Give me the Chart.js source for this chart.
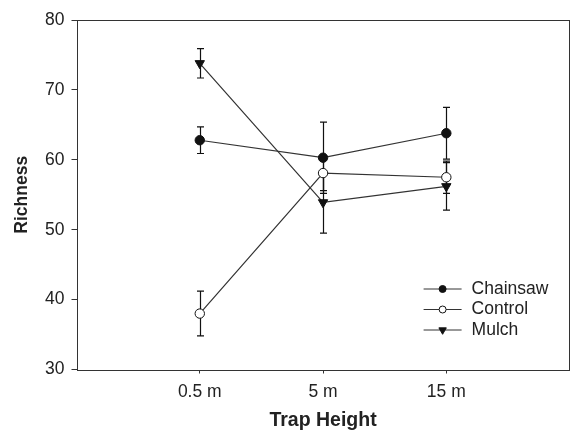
<!DOCTYPE html>
<html>
<head>
<meta charset="utf-8">
<script src="https://cdn.jsdelivr.net/npm/chart.js@4/dist/chart.umd.min.js"></script>
<style>
  html, body { margin: 0; padding: 0; background: #fff; overflow: hidden; }
  canvas { display: block; }
</style>
</head>
<body>
<canvas id="chart" width="576" height="430" style="width:576px;height:430px"></canvas>
<script>
// Alturas das armadilhas (posições 1, 2, 3 no eixo x)
const categories = ['0.5 m', '5 m', '15 m'];
const yTicks = [30, 40, 50, 60, 70, 80];

// Riqueza média e erro padrão por tratamento
const chainsaw = [62.8, 60.3, 63.8];
const chainsawErr = [1.9, 5.1, 3.7];
const control = [38.0, 58.1, 57.5];
const controlErr = [3.2, 2.5, 2.3];
const mulch = [73.8, 53.9, 56.2];
const mulchErr = [2.1, 4.4, 3.4];

const toPoints = (values) => values.map((v, i) => ({ x: i + 1, y: v }));

const INK = '#222';
const FONT = '"Liberation Sans", Arial, sans-serif';

// Desenha a moldura completa em volta da área do gráfico
const framePlugin = {
    id: 'frame',
    beforeDatasetsDraw(chart) {
        const { ctx, chartArea: a } = chart;
        ctx.save();
        ctx.strokeStyle = '#333';
        ctx.lineWidth = 1;
        const l = Math.round(a.left) + 0.5, t = Math.round(a.top) + 0.5;
        const r = Math.round(a.right) - 0.5, b = Math.round(a.bottom) + 0.5;
        ctx.strokeRect(l, t, r - l, b - t);
        ctx.restore();
    }
};

// Barras de erro verticais com tampas
const errorBarPlugin = {
    id: 'errorBars',
    beforeDatasetsDraw(chart) {
        const { ctx, scales: { x, y } } = chart;
        ctx.save();
        ctx.strokeStyle = '#111';
        ctx.lineWidth = 1.2;
        chart.data.datasets.forEach(ds => {
            ds.data.forEach((p, i) => {
                const e = ds.errors[i];
                const px = Math.round(x.getPixelForValue(p.x)) + 0.5;
                const yt = y.getPixelForValue(p.y + e);
                const yb = y.getPixelForValue(p.y - e);
                ctx.beginPath();
                ctx.moveTo(px, yt); ctx.lineTo(px, yb);
                ctx.moveTo(px - 3.5, yt); ctx.lineTo(px + 3.5, yt);
                ctx.moveTo(px - 3.5, yb); ctx.lineTo(px + 3.5, yb);
                ctx.stroke();
            });
        });
        ctx.restore();
    }
};

// Legenda no estilo linha + marcador, dentro da área do gráfico
const legendPlugin = {
    id: 'lineLegend',
    afterDraw(chart) {
        const { ctx, chartArea: a } = chart;
        const x0 = a.right - 146, x1 = a.right - 108;
        const xm = (x0 + x1) / 2;
        ctx.save();
        ctx.font = '17.5px ' + FONT;
        ctx.textBaseline = 'middle';
        chart.data.datasets.forEach((ds, i) => {
            const yy = a.bottom - 80.5 + i * 20.5;
            ctx.strokeStyle = '#333';
            ctx.lineWidth = 1;
            ctx.beginPath();
            ctx.moveTo(x0, yy); ctx.lineTo(x1, yy);
            ctx.stroke();
            ctx.fillStyle = ds.pointBackgroundColor;
            ctx.strokeStyle = ds.pointBorderColor;
            ctx.lineWidth = 1;
            Chart.helpers.drawPoint(ctx, {
                pointStyle: ds.pointStyle,
                radius: ds.pointStyle === 'triangle' ? 4.3 : 3.5,
                rotation: ds.pointRotation || 0,
                borderWidth: 1
            }, xm, yy);
            ctx.fillStyle = INK;
            ctx.fillText(ds.label, x1 + 10, yy);
        });
        ctx.restore();
    }
};

const baseDataset = {
    borderColor: '#333',
    borderWidth: 1.2,
    pointBorderColor: '#111',
    pointBorderWidth: 1,
    pointHoverRadius: 5,
    showLine: true,
    tension: 0
};

new Chart(document.getElementById('chart'), {
    type: 'scatter',
    data: {
        datasets: [
            { ...baseDataset, label: 'Chainsaw', data: toPoints(chainsaw), errors: chainsawErr,
              pointStyle: 'circle', pointRadius: 4.7, pointBackgroundColor: '#111' },
            { ...baseDataset, label: 'Control', data: toPoints(control), errors: controlErr,
              pointStyle: 'circle', pointRadius: 4.7, pointBackgroundColor: '#fff' },
            { ...baseDataset, label: 'Mulch', data: toPoints(mulch), errors: mulchErr,
              pointStyle: 'triangle', pointRotation: 180, pointRadius: 5.4, pointBackgroundColor: '#111' }
        ]
    },
    options: {
        responsive: false,
        maintainAspectRatio: false,
        devicePixelRatio: 1,
        animation: false,
        layout: { padding: { top: 20, right: 0, bottom: 0, left: 0 } },
        plugins: {
            legend: { display: false },
            tooltip: { enabled: false }
        },
        scales: {
            x: {
                type: 'linear',
                min: 0,
                max: 4,
                afterBuildTicks: (scale) => { scale.ticks = categories.map((c, i) => ({ value: i + 1 })); },
                afterFit: (scale) => { scale.height = 60.5; },
                border: { display: false },
                grid: { display: true, drawOnChartArea: false, drawTicks: true, tickLength: 4, color: '#333' },
                ticks: {
                    callback: (v) => categories[v - 1] || '',
                    color: INK,
                    padding: 8,
                    maxRotation: 0,
                    font: { family: FONT, size: 17.5 }
                },
                title: {
                    display: true,
                    text: 'Trap Height',
                    color: INK,
                    padding: { top: 0, bottom: 0 },
                    font: { family: FONT, size: 19.5, weight: 'bold', lineHeight: 1 }
                }
            },
            y: {
                min: 30,
                max: 80,
                afterBuildTicks: (scale) => { scale.ticks = yTicks.map(v => ({ value: v })); },
                afterFit: (scale) => { scale.width = 76.5; },
                border: { display: false },
                grid: { display: true, drawOnChartArea: false, drawTicks: true, tickLength: 5, color: '#333' },
                ticks: {
                    color: INK,
                    padding: 7,
                    font: { family: FONT, size: 17.5 }
                },
                title: {
                    display: true,
                    text: 'Richness',
                    color: INK,
                    padding: { top: 13, bottom: 0 },
                    font: { family: FONT, size: 17.5, weight: 'bold', lineHeight: 1 }
                }
            }
        }
    },
    plugins: [framePlugin, errorBarPlugin, legendPlugin]
});
</script>
</body>
</html>
